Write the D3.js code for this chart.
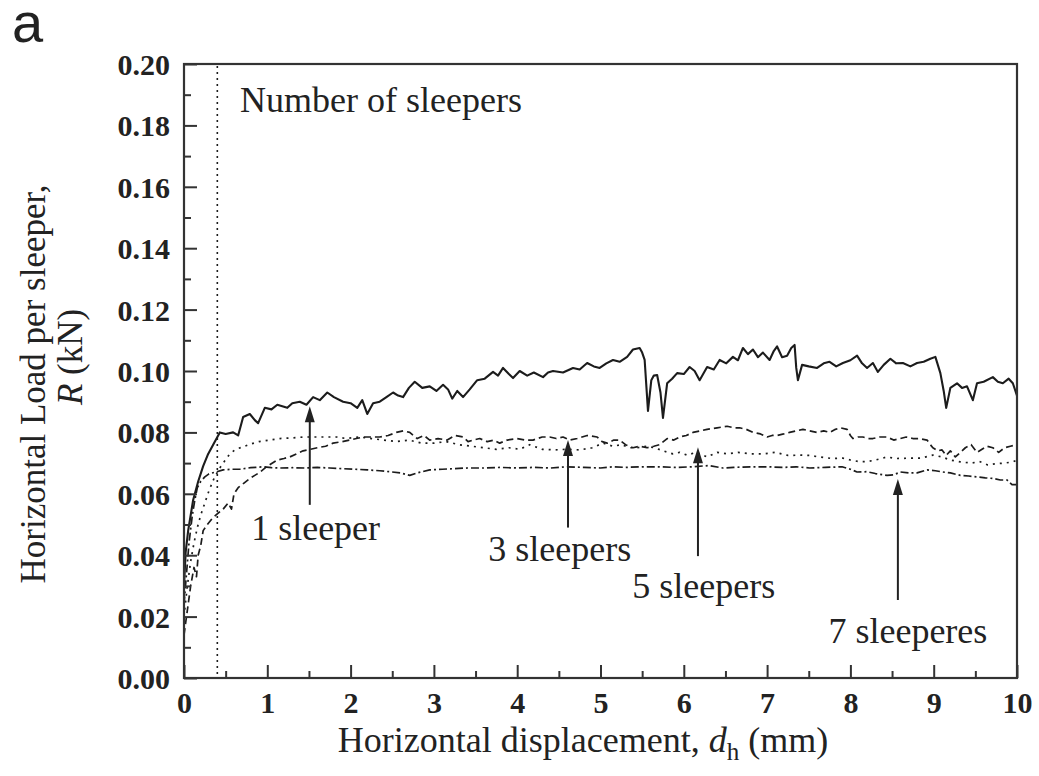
<!DOCTYPE html>
<html>
<head>
<meta charset="utf-8">
<script src="https://cdn.jsdelivr.net/npm/d3@7/dist/d3.min.js"></script>
<style>
  html, body { margin: 0; padding: 0; background: #fff; }
  svg { display: block; }
</style>
</head>
<body>
<svg id="chart" width="1039" height="776"></svg>
<script>
// Horizontal load per sleeper vs. horizontal displacement, [d_h (mm), R (kN)]
const oneSleeper = [
  [0,0.030],[0.02,0.041],[0.05,0.048],[0.11,0.058],[0.17,0.064],[0.23,0.069],[0.29,0.073],[0.35,0.076],
  [0.43,0.080],[0.5,0.0795],[0.59,0.080],[0.65,0.079],[0.71,0.085],[0.79,0.086],[0.85,0.084],[0.89,0.083],
  [0.97,0.088],[1.05,0.0875],[1.12,0.089],[1.18,0.0885],[1.24,0.088],[1.3,0.0895],[1.39,0.090],[1.47,0.089],
  [1.55,0.0915],[1.63,0.0905],[1.72,0.093],[1.8,0.0915],[1.91,0.090],[2.0,0.0895],[2.08,0.088],[2.14,0.0905],
  [2.2,0.086],[2.27,0.0895],[2.35,0.090],[2.43,0.0915],[2.51,0.093],[2.57,0.092],[2.63,0.0915],[2.7,0.0945],
  [2.77,0.0965],[2.86,0.0945],[2.95,0.095],[3.03,0.0935],[3.11,0.0955],[3.17,0.094],[3.22,0.091],[3.28,0.0935],
  [3.35,0.0915],[3.43,0.094],[3.52,0.097],[3.61,0.0975],[3.71,0.0997],[3.77,0.0985],[3.83,0.101],[3.9,0.099],
  [3.95,0.0977],[4.03,0.100],[4.12,0.0985],[4.2,0.0995],[4.31,0.098],[4.37,0.0995],[4.43,0.100],[4.55,0.0995],
  [4.67,0.101],[4.75,0.1005],[4.84,0.1026],[4.92,0.1015],[4.99,0.101],[5.07,0.1025],[5.15,0.1036],[5.23,0.103],
  [5.32,0.1046],[5.39,0.107],[5.47,0.1075],[5.5,0.106],[5.53,0.1036],[5.57,0.087],[5.61,0.097],[5.64,0.0985],
  [5.68,0.0987],[5.72,0.093],[5.75,0.0847],[5.8,0.096],[5.86,0.0975],[5.92,0.0993],[6.0,0.099],[6.07,0.1013],
  [6.13,0.100],[6.19,0.097],[6.28,0.1013],[6.36,0.1005],[6.43,0.1036],[6.51,0.1025],[6.59,0.1046],[6.65,0.1035],
  [6.71,0.1075],[6.77,0.1055],[6.83,0.107],[6.89,0.1045],[6.95,0.106],[7.03,0.1036],[7.08,0.1065],[7.12,0.108],
  [7.18,0.1045],[7.24,0.105],[7.29,0.1075],[7.33,0.1085],[7.35,0.101],[7.37,0.097],[7.42,0.102],[7.5,0.1015],
  [7.6,0.101],[7.68,0.1025],[7.75,0.103],[7.83,0.1015],[7.91,0.1026],[8.0,0.1035],[8.08,0.105],[8.14,0.1025],
  [8.2,0.101],[8.27,0.1026],[8.33,0.0997],[8.4,0.102],[8.48,0.104],[8.55,0.1025],[8.63,0.1026],[8.72,0.1015],
  [8.8,0.1026],[8.88,0.103],[8.96,0.104],[9.02,0.1046],[9.08,0.0993],[9.12,0.0935],[9.15,0.088],[9.2,0.0945],
  [9.28,0.096],[9.34,0.0945],[9.4,0.095],[9.47,0.0905],[9.52,0.096],[9.6,0.0965],[9.71,0.098],[9.77,0.0965],
  [9.83,0.096],[9.9,0.0975],[9.95,0.096],[10.0,0.092]
];

const threeSleepers = [
  [0,0.014],[0.04,0.022],[0.08,0.030],[0.12,0.036],[0.15,0.033],[0.17,0.040],[0.2,0.043],[0.23,0.048],
  [0.28,0.050],[0.34,0.052],[0.4,0.0535],[0.47,0.055],[0.53,0.057],[0.57,0.055],[0.6,0.060],[0.65,0.062],
  [0.72,0.0635],[0.79,0.065],[0.85,0.066],[0.91,0.067],[1.0,0.069],[1.12,0.071],[1.2,0.0715],[1.27,0.072],
  [1.35,0.073],[1.43,0.074],[1.52,0.0745],[1.6,0.075],[1.7,0.0755],[1.79,0.0765],[1.9,0.077],[1.99,0.0775],
  [2.07,0.078],[2.15,0.0785],[2.25,0.0785],[2.35,0.0785],[2.45,0.079],[2.55,0.080],[2.63,0.0805],[2.71,0.080],
  [2.8,0.078],[2.88,0.079],[2.95,0.0775],[3.05,0.078],[3.16,0.0775],[3.25,0.079],[3.35,0.0785],[3.41,0.077],
  [3.47,0.0775],[3.55,0.078],[3.64,0.077],[3.72,0.0775],[3.79,0.0765],[3.88,0.0775],[4.0,0.078],[4.1,0.0775],
  [4.19,0.0775],[4.3,0.0785],[4.39,0.0785],[4.47,0.078],[4.55,0.0785],[4.63,0.0775],[4.72,0.078],[4.84,0.079],
  [4.96,0.0785],[5.02,0.077],[5.08,0.0765],[5.16,0.0775],[5.23,0.0775],[5.3,0.076],[5.39,0.075],[5.47,0.0755],
  [5.56,0.075],[5.64,0.0755],[5.71,0.076],[5.8,0.078],[5.88,0.0775],[5.95,0.0785],[6.03,0.079],[6.11,0.080],
  [6.2,0.0805],[6.28,0.081],[6.4,0.0815],[6.52,0.082],[6.6,0.0815],[6.67,0.0815],[6.75,0.081],[6.83,0.080],
  [6.92,0.0795],[7.0,0.0785],[7.06,0.079],[7.12,0.079],[7.2,0.0795],[7.27,0.080],[7.35,0.0805],[7.43,0.081],
  [7.51,0.0805],[7.6,0.080],[7.68,0.0805],[7.75,0.080],[7.82,0.081],[7.88,0.0815],[7.96,0.081],[8.0,0.079],
  [8.03,0.078],[8.09,0.0785],[8.15,0.0785],[8.21,0.078],[8.27,0.078],[8.35,0.0785],[8.44,0.0785],[8.52,0.0775],
  [8.6,0.078],[8.67,0.0785],[8.75,0.078],[8.83,0.078],[8.92,0.0775],[8.96,0.076],[8.99,0.075],[9.05,0.074],
  [9.1,0.0743],[9.15,0.0725],[9.2,0.074],[9.26,0.072],[9.32,0.0735],[9.38,0.075],[9.45,0.076],[9.52,0.0735],
  [9.58,0.0745],[9.64,0.0755],[9.71,0.075],[9.78,0.0735],[9.85,0.075],[9.92,0.0755],[10.0,0.076]
];

const fiveSleepers = [
  [0,0.020],[0.04,0.030],[0.08,0.038],[0.12,0.044],[0.16,0.049],[0.2,0.053],[0.25,0.057],[0.3,0.061],
  [0.36,0.065],[0.42,0.068],[0.47,0.070],[0.55,0.073],[0.62,0.0745],[0.7,0.0752],[0.8,0.0762],[0.9,0.077],
  [1.03,0.0775],[1.15,0.078],[1.3,0.0782],[1.43,0.0785],[1.55,0.0785],[1.7,0.0785],[1.83,0.0785],[1.95,0.078],
  [2.1,0.0785],[2.25,0.078],[2.4,0.0775],[2.55,0.077],[2.7,0.0775],[2.85,0.0765],[3.0,0.0765],[3.15,0.077],
  [3.3,0.076],[3.45,0.0755],[3.6,0.075],[3.75,0.0745],[3.9,0.075],[4.03,0.0745],[4.15,0.076],[4.3,0.0745],
  [4.45,0.0743],[4.6,0.0745],[4.75,0.0743],[4.9,0.075],[5.03,0.0765],[5.15,0.0755],[5.25,0.076],[5.35,0.075],
  [5.44,0.075],[5.55,0.0755],[5.65,0.075],[5.75,0.074],[5.87,0.073],[5.95,0.0735],[6.04,0.0726],[6.15,0.0735],
  [6.28,0.072],[6.4,0.0735],[6.52,0.073],[6.65,0.0735],[6.8,0.073],[6.95,0.073],[7.1,0.0735],[7.25,0.0725],
  [7.39,0.0726],[7.5,0.0725],[7.63,0.072],[7.78,0.0715],[7.91,0.0716],[8.0,0.071],[8.1,0.0705],[8.2,0.0705],
  [8.3,0.071],[8.44,0.072],[8.55,0.0715],[8.7,0.0716],[8.84,0.0716],[8.99,0.0726],[9.1,0.072],[9.2,0.071],
  [9.32,0.0704],[9.45,0.070],[9.55,0.0705],[9.65,0.0694],[9.75,0.0698],[9.85,0.070],[9.95,0.0704],[10.0,0.071]
];

const sevenSleepers = [
  [0,0.024],[0.03,0.034],[0.06,0.044],[0.1,0.053],[0.13,0.058],[0.16,0.062],[0.2,0.064],[0.25,0.0655],
  [0.3,0.0665],[0.37,0.067],[0.47,0.0678],[0.57,0.068],[0.67,0.068],[0.8,0.0685],[0.95,0.0688],[1.05,0.0685],
  [1.15,0.0684],[1.3,0.0685],[1.45,0.0684],[1.6,0.0686],[1.75,0.0684],[1.9,0.0682],[2.05,0.068],[2.2,0.0678],
  [2.35,0.0675],[2.5,0.0671],[2.6,0.0668],[2.71,0.066],[2.8,0.0668],[2.95,0.0678],[3.1,0.068],[3.25,0.0682],
  [3.4,0.0684],[3.6,0.0684],[3.8,0.0686],[4.0,0.0684],[4.2,0.0686],[4.4,0.0684],[4.6,0.0688],[4.8,0.0686],
  [5.0,0.0684],[5.15,0.0688],[5.3,0.0686],[5.5,0.0688],[5.7,0.0688],[5.9,0.0686],[6.1,0.0688],[6.3,0.0692],
  [6.47,0.0684],[6.6,0.0686],[6.8,0.0688],[7.0,0.0688],[7.2,0.0686],[7.35,0.0688],[7.51,0.0684],[7.7,0.0686],
  [7.9,0.0688],[8.0,0.068],[8.08,0.0671],[8.2,0.0672],[8.3,0.0666],[8.44,0.066],[8.52,0.0662],[8.6,0.0671],
  [8.7,0.0668],[8.8,0.0668],[8.92,0.0678],[9.02,0.0675],[9.11,0.0671],[9.2,0.0668],[9.32,0.066],[9.42,0.0658],
  [9.52,0.0655],[9.62,0.0652],[9.71,0.065],[9.8,0.0645],[9.88,0.0645],[9.94,0.063],[10.0,0.063]
];

// Tick values
const xTicks = [0,1,2,3,4,5,6,7,8,9,10];
const xMinorTicks = [0.5,1.5,2.5,3.5,4.5,5.5,6.5,7.5,8.5,9.5];
const yTicks = [0,0.02,0.04,0.06,0.08,0.10,0.12,0.14,0.16,0.18,0.20];
const yMinorTicks = [0.01,0.03,0.05,0.07,0.09,0.11,0.13,0.15,0.17,0.19];

// Boundary of the sleeper-number zone (mm)
const zoneLimit = [0.4];

// Annotation arrows: label, displacement, tip load, tail load, label position
const arrowLabels = ["1 sleeper", "3 sleepers", "5 sleepers", "7 sleeperes"];
const arrowDisp = [1.51, 4.61, 6.17, 8.57];
const arrowTip = [0.0885, 0.0775, 0.0752, 0.0648];
const arrowTail = [0.0564, 0.049, 0.0397, 0.0254];
const labelDisp = [1.58, 4.51, 6.24, 8.69];
const labelLoad = [0.0448, 0.0382, 0.0262, 0.0115];

const svg = d3.select("#chart");
const margin = { left: 184, right: 1017, top: 64, bottom: 678 };

const x = d3.scaleLinear().domain([0, 10]).range([margin.left, margin.right]);
const y = d3.scaleLinear().domain([0, 0.20]).range([margin.bottom, margin.top]);

const ink = "#1c1c1c";
const serif = "'Liberation Serif', 'Times New Roman', serif";

// Panel letter
svg.append("text")
  .attr("x", 12).attr("y", 42)
  .attr("font-family", "'Liberation Sans', Arial, sans-serif")
  .attr("font-size", 56)
  .attr("fill", "#222")
  .text("a");

// Data curves
const line = d3.line().x(d => x(d[0])).y(d => y(d[1]));
const curves = svg.append("g").attr("fill", "none").attr("stroke", ink)
  .attr("stroke-linejoin", "round");

curves.append("path").datum(oneSleeper).attr("d", line).attr("stroke-width", 2.1);
curves.append("path").datum(threeSleepers).attr("d", line)
  .attr("stroke-width", 1.7).attr("stroke-dasharray", "7,4");
curves.append("path").datum(fiveSleepers).attr("d", line)
  .attr("stroke-width", 1.7).attr("stroke-dasharray", "2,5");
curves.append("path").datum(sevenSleepers).attr("d", line)
  .attr("stroke-width", 1.7).attr("stroke-dasharray", "8,3,2,3");

// Zone boundary
svg.selectAll(".zone").data(zoneLimit).join("line")
  .attr("x1", d => x(d)).attr("x2", d => x(d))
  .attr("y1", y(0.20) + 2).attr("y2", y(0))
  .attr("stroke", ink).attr("stroke-width", 1.6).attr("stroke-dasharray", "2,4");

// Axes: ticks point inward
const axisG = svg.append("g");
const bottom = axisG.append("g").attr("transform", `translate(0,${margin.bottom})`)
  .call(d3.axisBottom(x).tickValues(xTicks).tickSize(-13).tickPadding(14).tickFormat(d3.format("d")));
axisG.append("g").attr("transform", `translate(0,${margin.bottom})`)
  .call(d3.axisBottom(x).tickValues(xMinorTicks).tickSize(-7).tickFormat(""));
const left = axisG.append("g").attr("transform", `translate(${margin.left},0)`)
  .call(d3.axisLeft(y).tickValues(yTicks).tickSize(-13).tickPadding(14).tickFormat(d3.format(".2f")));
axisG.append("g").attr("transform", `translate(${margin.left},0)`)
  .call(d3.axisLeft(y).tickValues(yMinorTicks).tickSize(-7).tickFormat(""));

axisG.selectAll(".domain").remove();
axisG.selectAll(".tick line").attr("stroke", "#333").attr("stroke-width", 2);
axisG.selectAll(".tick text")
  .attr("font-family", serif).attr("font-weight", "bold")
  .attr("font-size", 30).attr("fill", "#222");
bottom.selectAll(".tick text").attr("dy", "0.71em");
left.selectAll(".tick text").attr("dy", "0.35em");

// Frame
svg.append("rect")
  .attr("x", margin.left).attr("y", margin.top)
  .attr("width", margin.right - margin.left).attr("height", margin.bottom - margin.top)
  .attr("fill", "none").attr("stroke", "#333").attr("stroke-width", 2.2);

// Arrows and labels
const ann = svg.append("g");
arrowLabels.forEach((lab, i) => {
  const ax = x(arrowDisp[i]);
  const tipY = y(arrowTip[i]);
  const tailY = y(arrowTail[i]);
  ann.append("line")
    .attr("x1", ax).attr("x2", ax).attr("y1", tailY).attr("y2", tipY + 12)
    .attr("stroke", "#222").attr("stroke-width", 2);
  ann.append("path")
    .attr("d", `M${ax},${tipY} L${ax - 5},${tipY + 16} L${ax + 5},${tipY + 16} Z`)
    .attr("fill", "#222");
  ann.append("text")
    .attr("x", x(labelDisp[i])).attr("y", y(labelLoad[i]))
    .attr("text-anchor", "middle")
    .attr("font-family", serif).attr("font-size", 36).attr("fill", "#222")
    .text(lab);
});

svg.append("text")
  .attr("x", 240).attr("y", 112)
  .attr("font-family", serif).attr("font-size", 36).attr("fill", "#222")
  .text("Number of sleepers");

// Axis titles
const xTitle = svg.append("text")
  .attr("x", 583).attr("y", 752)
  .attr("text-anchor", "middle")
  .attr("font-family", serif).attr("font-size", 36).attr("fill", "#222");
xTitle.append("tspan").text("Horizontal displacement, ");
xTitle.append("tspan").attr("font-style", "italic").text("d");
xTitle.append("tspan").attr("font-size", 25).attr("dy", 8).text("h");
xTitle.append("tspan").attr("dy", -8).text(" (mm)");

const yTitle = svg.append("g").attr("transform", "rotate(-90)")
  .attr("font-family", serif).attr("font-size", 35).attr("fill", "#222")
  .attr("text-anchor", "middle");
yTitle.append("text").attr("x", -384).attr("y", 45).text("Horizontal Load per sleeper,");
const yt2 = yTitle.append("text").attr("x", -357).attr("y", 82);
yt2.append("tspan").attr("font-style", "italic").text("R");
yt2.append("tspan").text(" (kN)");
</script>
</body>
</html>
